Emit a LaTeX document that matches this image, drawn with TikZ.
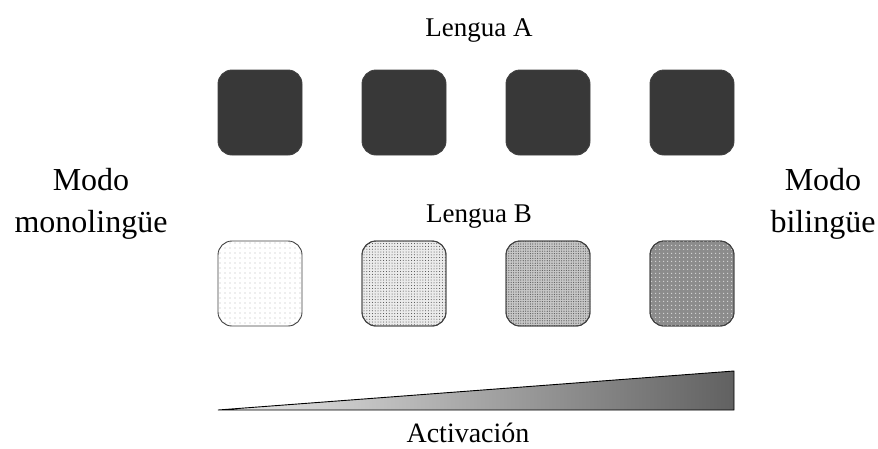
\documentclass[tikz,border=0pt]{standalone}
\usepackage{fontspec}
\setmainfont{Liberation Serif}
\usetikzlibrary{patterns.meta,shadings}
\begin{document}
\begin{tikzpicture}[x=1pt,y=-1pt,
  langbox/.style={draw=black!75,line width=0.9pt,rounded corners=14pt},
  darkbox/.style={langbox,fill=black!78},
  heading/.style={font=\rmfamily\fontsize{27}{30}\selectfont,inner sep=0pt,anchor=base},
  side/.style={font=\rmfamily\fontsize{32}{42}\selectfont,align=center,inner sep=0pt,anchor=base}]
  \useasboundingbox (0,0) rectangle (878,448);
  % language A: fully active units
  \foreach \i/\x in {1/218,2/362,3/506,4/650}
    \path[darkbox] (\x,70) rectangle ++(84,85) node[midway] (a\i) {};
  % language B: increasing activation
  \path[langbox,fill=white,pattern={Dots[distance=5pt,radius=0.45pt]},pattern color=black!80]
    (218,241) rectangle ++(84,85) node[midway] (b1) {};
  \path[langbox,fill=black!8] (362,241) rectangle ++(84,85);
  \path[langbox,pattern={Dots[distance=2.8pt,radius=0.5pt]},pattern color=black!75]
    (362,241) rectangle ++(84,85) node[midway] (b2) {};
  \path[langbox,fill=black!22] (506,241) rectangle ++(84,85);
  \path[langbox,pattern={Dots[distance=2.4pt,radius=0.6pt]},pattern color=black!65]
    (506,241) rectangle ++(84,85) node[midway] (b3) {};
  \path[langbox,fill=black!45] (650,241) rectangle ++(84,85);
  \path[langbox,pattern={Dots[distance=4pt,radius=0.9pt]},pattern color=black!15]
    (650,241) rectangle ++(84,85) node[midway] (b4) {};
  % activation wedge
  \coordinate (w1) at (218,410);
  \coordinate (w2) at (734,410);
  \coordinate (w3) at (734,371);
  \shade[left color=black!8,right color=black!62] (w1) -- (w2) -- (w3) -- cycle;
  \draw[line width=0.9pt,line join=miter] (w1) -- (w2) -- (w3) -- cycle;
  % labels
  \node[heading] (la) at (479,36) {Lengua A};
  \node[heading] (lb) at (479,222) {Lengua B};
  \node[side] (mono) at (91,232) {Modo\\monolingüe};
  \node[side] (bil) at (823,232) {Modo\\bilingüe};
  \node[heading,font=\rmfamily\fontsize{28}{30}\selectfont] (act) at (468,442) {Activación};
\end{tikzpicture}
\end{document}
